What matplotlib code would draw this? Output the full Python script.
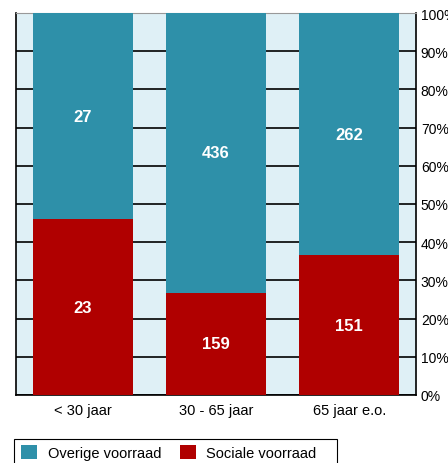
import matplotlib.pyplot as plt
from matplotlib.patches import Rectangle
import numpy as np

plt.rcParams['font.family'] = ['Liberation Sans', 'DejaVu Sans']

categories = ['< 30 jaar', '30 - 65 jaar', '65 jaar e.o.']
sociale = [23, 159, 151]
overige = [27, 436, 262]
series_names = ['Overige voorraad', 'Sociale voorraad']
c_overige = '#2e90a9'
c_sociale = '#b00000'

sociale = np.array(sociale, dtype=float)
overige = np.array(overige, dtype=float)
totaal = sociale + overige
p_soc = sociale / totaal * 100
p_ov = overige / totaal * 100

fig = plt.figure(figsize=(4.48, 4.64), dpi=100)
ax = fig.add_axes([16 / 448, 1 - 396 / 464, 400 / 448, 382 / 464])
ax.set_facecolor('#dff0f6')

x = np.arange(len(categories))
b1 = ax.bar(x, p_soc, width=0.75, color=c_sociale, zorder=3, label=series_names[1])
b2 = ax.bar(x, p_ov, width=0.75, bottom=p_soc, color=c_overige, zorder=3, label=series_names[0])

for i in range(len(categories)):
    ax.text(x[i], p_soc[i] / 2, f'{int(sociale[i])}', ha='center', va='center',
            color='white', fontsize=12, fontweight='bold', zorder=4)
    ax.text(x[i], p_soc[i] + p_ov[i] / 2, f'{int(overige[i])}', ha='center', va='center',
            color='white', fontsize=12, fontweight='bold', zorder=4)

ax.set_xlim(-0.5, 2.5)
ax.set_ylim(0, 100)
ax.set_yticks(np.arange(0, 101, 10))
ax.set_yticklabels([f'{v}%' for v in range(0, 101, 10)])
ax.yaxis.tick_right()
ax.yaxis.grid(True, color='black', linewidth=1.2, zorder=1)
ax.set_axisbelow(True)
ax.set_xticks(x)
ax.set_xticklabels(categories)
ax.tick_params(axis='x', length=0, labelsize=10.5, pad=6)
ax.tick_params(axis='y', length=0, labelsize=10, pad=3.5)

for s in ['left', 'bottom', 'right']:
    ax.spines[s].set_color('black')
    ax.spines[s].set_linewidth(1.2)
ax.spines['top'].set_color('#999999')

# legend box drawn by hand so it is as wide as in the original
fig.patches.append(Rectangle((14 / 448, 1 - 470 / 464), 323 / 448, 30 / 464,
                             transform=fig.transFigure, fill=False,
                             edgecolor='black', linewidth=0.8))
leg = fig.legend(handles=[b2, b1], labels=series_names, loc='upper left',
                 bbox_to_anchor=(17 / 448, 1 - 442 / 464), ncol=2, frameon=False,
                 fontsize=10.5, handlelength=1.1, handleheight=1.1, columnspacing=1.3,
                 borderpad=0.3, handletextpad=0.7, borderaxespad=0)

plt.savefig('out.png', dpi=100)
